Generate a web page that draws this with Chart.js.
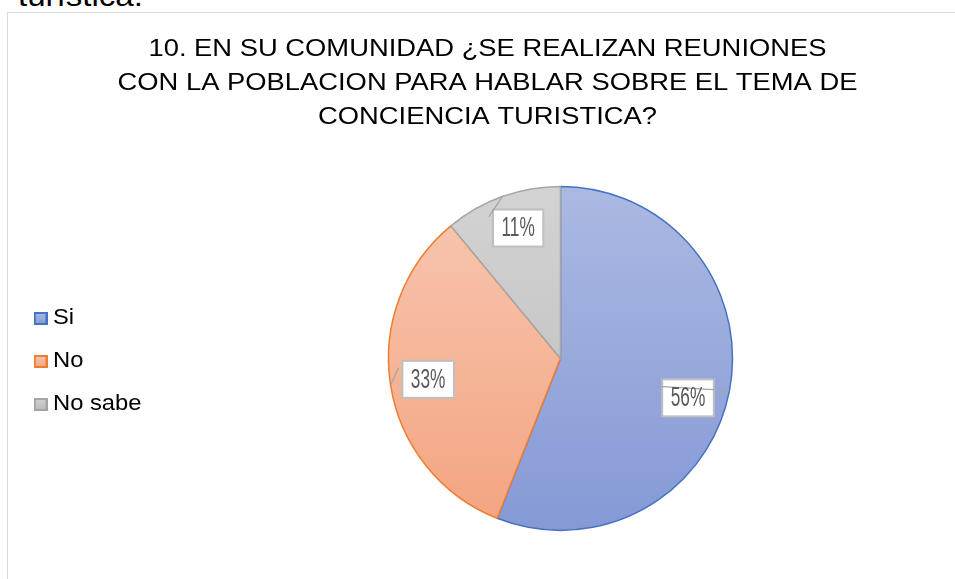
<!DOCTYPE html>
<html><head><meta charset="utf-8">
<script src="https://cdn.jsdelivr.net/npm/chart.js@4.4.1/dist/chart.umd.min.js"></script>
<style>
html,body{margin:0;padding:0;background:#fff;overflow:hidden;width:955px;height:579px;}
#prev{position:absolute;left:18px;top:-18px;font:29px/29px "Liberation Sans",Arial,sans-serif;color:#000;white-space:nowrap;transform:scaleX(1.14);transform-origin:0 0;}
#frame{position:absolute;left:7px;top:12px;width:970px;height:620px;border:1px solid #D9D9D9;background:#fff;}
canvas{display:block;}
</style></head><body>
<div id="prev">turística.</div>
<div id="frame"><canvas id="c"></canvas></div>
<script>
const titleLines = ['10. EN SU COMUNIDAD ¿SE REALIZAN REUNIONES', 'CON LA POBLACION PARA HABLAR SOBRE EL TEMA DE', 'CONCIENCIA TURISTICA?'];
const categories = ['Si', 'No', 'No sabe'];
const values = [56, 33, 11];
const fillTop = ['#ABB9E2', '#F8C7B2', '#D3D3D3'];
const fillBottom = ['#8599D5', '#F3A47F', '#BBBBBB'];
const borderColors = ['#4472C4', '#ED7D31', '#A5A5A5'];
const pieRadius = 172;

function sliceFill(c) {
  const ch = c.chart, a = ch.chartArea, i = c.dataIndex;
  if (!a) return fillTop[i];
  const cy = (a.top + a.bottom) / 2;
  const g = ch.ctx.createLinearGradient(0, cy - pieRadius, 0, cy + pieRadius);
  g.addColorStop(0, fillTop[i]);
  g.addColorStop(1, fillBottom[i]);
  return g;
}

function swatch(i) {
  const c = document.createElement('canvas');
  c.width = 13; c.height = 13;
  const x = c.getContext('2d');
  const g = x.createLinearGradient(0, 0, 0, 13);
  g.addColorStop(0, fillTop[i]);
  g.addColorStop(1, fillBottom[i]);
  x.fillStyle = g;
  x.fillRect(0, 0, 13, 13);
  x.strokeStyle = borderColors[i];
  x.lineWidth = 2;
  x.strokeRect(1, 1, 11, 11);
  return c;
}
const swatches = categories.map((_, i) => swatch(i));

const boxTweaks = {
  id: 'boxTweaks',
  beforeLayout(chart, args, opts) {
    const lg = chart.legend, tb = chart.titleBlock;
    if (lg && !lg._tweaked) {
      const f = lg.fit, d = lg.draw;
      lg.fit = function () { f.call(this); this.width = opts.legendWidth; };
      lg.draw = function () {
        const c = this.ctx;
        const x0 = this.left + this.options.labels.padding + 12;
        c.save();
        c.translate(x0, opts.legendShiftY);
        c.scale(opts.legendStretch, 1);
        c.translate(-x0, 0);
        d.call(this);
        c.restore();
      };
      lg._tweaked = true;
    }
    if (tb && !tb._tweaked) {
      const d = tb.draw;
      tb.draw = function () {
        const c = this.ctx;
        const cx = (this.left + this.right) / 2;
        c.save();
        c.translate(cx, 0);
        c.scale(opts.titleStretch, 1);
        c.translate(-cx, 0);
        d.call(this);
        c.restore();
      };
      tb._tweaked = true;
    }
  }
};

const pctLabels = {
  id: 'pctLabels',
  afterDatasetsDraw(chart, args, opts) {
    const ctx = chart.ctx;
    const meta = chart.getDatasetMeta(0);
    const total = values.reduce((s, v) => s + v, 0);
    meta.data.forEach((arc, i) => {
      const p = arc.getProps(['x', 'y', 'startAngle', 'endAngle', 'outerRadius'], true);
      const mid = (p.startAngle + p.endAngle) / 2;
      const la = mid + opts.angleShift[i] * Math.PI / 180;
      const r = p.outerRadius * opts.radial[i];
      const cx = p.x + Math.cos(la) * r, cy = p.y + Math.sin(la) * r;
      const txt = Math.round(values[i] / total * 100) + '%';
      ctx.save();
      ctx.font = '27px "Liberation Sans", Arial, sans-serif';
      const sx = 0.64;
      const tw = ctx.measureText(txt).width * sx;
      const bw = tw + 17, bh = 37;
      const bx = cx - bw / 2, by = cy - bh / 2;
      ctx.fillStyle = '#FFFFFF';
      ctx.fillRect(bx, by, bw, bh);
      ctx.strokeStyle = '#BFBFBF';
      ctx.lineWidth = 2;
      ctx.strokeRect(bx, by, bw, bh);
      const ex = p.x + Math.cos(mid) * p.outerRadius, ey = p.y + Math.sin(mid) * p.outerRadius;
      ctx.beginPath();
      ctx.moveTo(ex, ey);
      ctx.lineTo(bx - 4, by + 7);
      ctx.strokeStyle = '#A6A6A6';
      ctx.lineWidth = 1.3;
      ctx.stroke();
      ctx.translate(cx, cy);
      ctx.scale(sx, 1);
      ctx.fillStyle = '#595959';
      ctx.textAlign = 'center';
      ctx.textBaseline = 'middle';
      ctx.fillText(txt, 0, 1);
      ctx.restore();
    });
  }
};

new Chart(document.getElementById('c'), {
  type: 'pie',
  data: {
    labels: categories,
    datasets: [{
      data: values,
      backgroundColor: sliceFill,
      borderColor: borderColors,
      borderWidth: 1.5,
      radius: pieRadius
    }]
  },
  options: {
    responsive: true,
    maintainAspectRatio: false,
    animation: false,
    layout: { padding: { left: 12, right: 23, top: 0, bottom: 58 } },
    plugins: {
      tooltip: { enabled: false },
      boxTweaks: { legendWidth: 146, legendStretch: 1.08, legendShiftY: 3, titleStretch: 1.14 },
      pctLabels: { angleShift: [6.4, 0, 1.8], radial: [0.776, 0.779, 0.797] },
      title: {
        display: true,
        text: titleLines,
        color: '#000000',
        font: { family: '"Liberation Sans", Arial, sans-serif', size: 24, weight: 'normal', lineHeight: 1.4 },
        padding: { top: 20, bottom: 8 }
      },
      legend: {
        position: 'left',
        fullSize: false,
        align: 'center',
        labels: {
          color: '#000000',
          font: { family: '"Liberation Sans", Arial, sans-serif', size: 22 },
          usePointStyle: true,
          pointStyleWidth: 1,
          padding: 21,
          generateLabels(chart) {
            const items = Chart.overrides.doughnut.plugins.legend.labels.generateLabels(chart);
            return items.map((it, i) => Object.assign({}, it, { pointStyle: swatches[i] }));
          }
        }
      }
    }
  },
  plugins: [boxTweaks, pctLabels]
});
</script>
</body></html>
